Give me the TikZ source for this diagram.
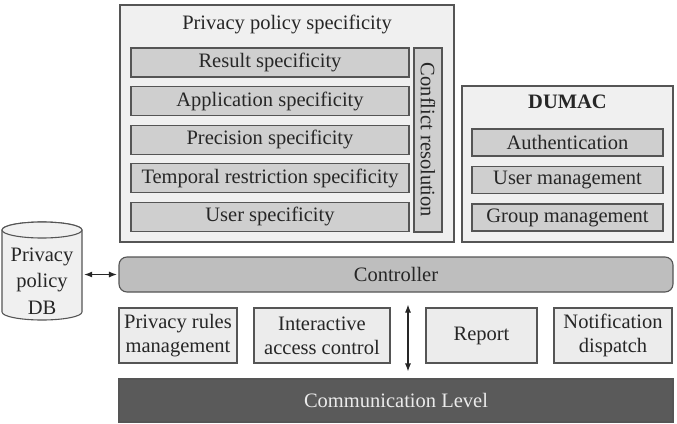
\documentclass[tikz,border=0pt]{standalone}
\usepackage{fontspec}
\setmainfont{LiberationSerif}[Extension=.ttf, UprightFont=*-Regular, BoldFont=*-Bold, ItalicFont=*-Italic, BoldItalicFont=*-BoldItalic]
\usetikzlibrary{shapes.geometric,arrows.meta,positioning,calc}

\definecolor{lineGray}{HTML}{555555}
\definecolor{txtGray}{HTML}{262626}
\definecolor{paneFill}{HTML}{F0F0F0}
\definecolor{specFill}{HTML}{CFCFCF}
\definecolor{ctrlFill}{HTML}{BEBEBE}
\definecolor{modFill}{HTML}{ECECEC}
\definecolor{commFill}{HTML}{5A5A5A}

\begin{document}
\begin{tikzpicture}[x=1pt, y=-1pt,
    every node/.style={font=\fontsize{20.5}{25}\selectfont, text=txtGray},
    pane/.style={rectangle, draw=lineGray, fill=paneFill, line width=1.1pt, inner sep=0pt},
    spec/.style={rectangle, draw=lineGray, fill=specFill, line width=1.1pt, inner sep=0pt},
    ctrlbox/.style={rectangle, rounded corners=8pt, draw=lineGray, fill=ctrlFill, line width=1.1pt, minimum width=554pt, minimum height=35pt},
    module/.style={rectangle, draw=lineGray, fill=modFill, line width=1.1pt, minimum height=55pt, inner sep=0pt, align=center, font=\fontsize{20.5}{24}\selectfont},
    commbox/.style={rectangle, draw=lineGray, fill=commFill, line width=1.1pt, minimum width=554pt, minimum height=43pt, text=white!92!black},
    dbshape/.style={draw=lineGray, fill=paneFill, line width=1.1pt},
    biarrow/.style={{Latex[length=8pt,width=6pt]}-{Latex[length=8pt,width=6pt]}, line width=1.1pt, draw=txtGray}
]
\useasboundingbox (0,0) rectangle (677,423);

% --- Privacy policy specificity ---
\node[pane, minimum width=334pt, minimum height=237pt] (ppsPane) at (287,123.5) {};
\node (ppsTitle) at (287,24) {Privacy policy specificity};
\foreach \name/\txt [count=\i] in {res/Result specificity, app/Application specificity, prec/Precision specificity, temp/Temporal restriction specificity, user/User specificity} {
    \node[spec, minimum width=278pt, minimum height=29pt] (\name) at (270,{62.5+38.6*(\i-1)}) {\txt};
}
\node[spec, minimum width=184pt, minimum height=28pt, rotate=-90] (conflict) at (428,140) {Conflict resolution};

% --- DUMAC ---
\node[pane, minimum width=211pt, minimum height=156pt] (dumacPane) at (567.5,164) {};
\node[font=\fontsize{20.5}{25}\selectfont\bfseries] (dumacTitle) at (567.5,102) {DUMAC};
\foreach \name/\txt [count=\i] in {auth/Authentication, userMgmt/User management, groupMgmt/Group management} {
    \node[spec, minimum width=191pt, minimum height=27pt] (\name) at (567.5,{142.5+37.5*(\i-1)}) {\txt};
}

% --- Controller and database ---
\node[ctrlbox] (ctrl) at (396,274.5) {Controller};
% database cylinder
\draw[dbshape] (2,230) -- (2,312) arc[start angle=180, end angle=360, x radius=40pt, y radius=8pt]
    -- (82,230) arc[start angle=0, end angle=180, x radius=40pt, y radius=8pt] -- cycle;
\draw[dbshape] (42,230) ellipse[x radius=40pt, y radius=8pt];
\node[align=center, minimum width=80pt, inner sep=0pt, font=\fontsize{20.5}{26.5}\selectfont] (dbLabel) at (42,281) {Privacy\\policy\\DB};
\draw[biarrow, shorten <=2pt, shorten >=1.5pt] (dbLabel.east |- ctrl.west) -- (ctrl.west);

% --- Modules ---
\node[module, minimum width=118pt] (rules) at (178,335.5) {Privacy rules\\management};
\node[module, minimum width=136pt] (iac) at (322,335.5) {Interactive\\access control};
\node[module, minimum width=111pt] (report) at (481.5,335.5) {Report};
\node[module, minimum width=118pt] (notif) at (613,335.5) {Notification\\dispatch};

% --- Communication level ---
\node[commbox] (comm) at (396,400.5) {Communication Level};
\coordinate (link) at (408,335);
\draw[biarrow, shorten <=12pt, shorten >=7pt] (ctrl.south -| link) -- (comm.north -| link);

\end{tikzpicture}
\end{document}
